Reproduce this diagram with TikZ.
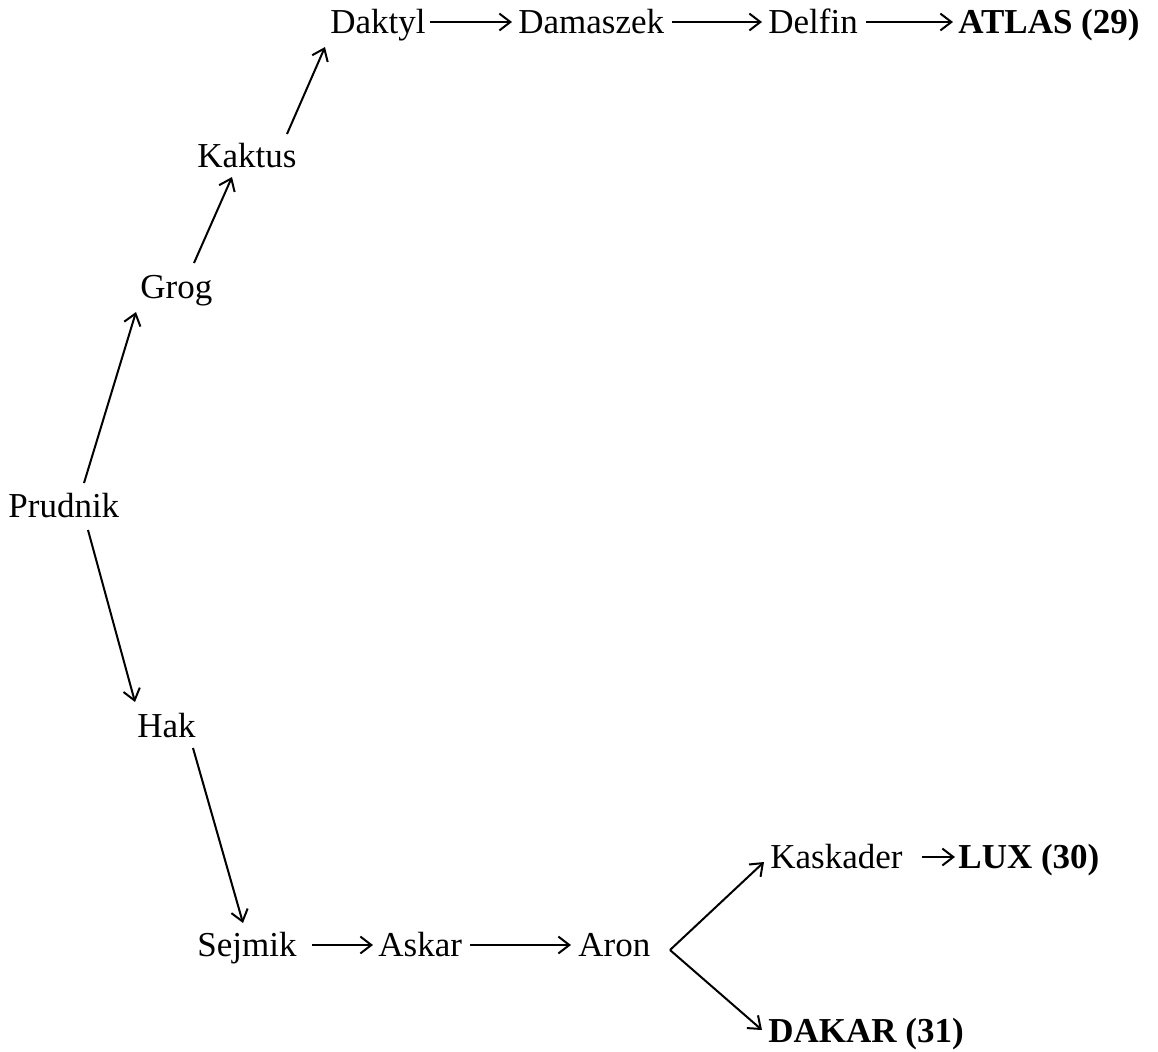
\documentclass[tikz,border=0pt]{standalone}
\usepackage{fontspec}
\setmainfont{Liberation Serif}
\usetikzlibrary{arrows.meta}
\begin{document}
\begin{tikzpicture}[x=0.5pt,y=-0.5pt,
  lbl/.style={anchor=base west,inner sep=0pt,font=\fontsize{17.5}{21}\selectfont},
  blbl/.style={lbl,font=\fontsize{17.5}{21}\selectfont\bfseries},
  arr/.style={line width=1pt,-{Straight Barb[length=5.5pt,width=11pt,angle'=75]}}]
\useasboundingbox (0,0) rectangle (1158,1051);
\node[lbl] (Prudnik) at (8,517) {Prudnik};
\node[lbl] (Grog) at (140,298) {Grog};
\node[lbl] (Kaktus) at (197,167) {Kaktus};
\node[lbl] (Daktyl) at (330,33) {Daktyl};
\node[lbl] (Damaszek) at (518,33) {Damaszek};
\node[lbl] (Delfin) at (768,33) {Delfin};
\node[blbl] (ATLAS) at (958,33) {ATLAS (29)};
\node[lbl] (Hak) at (137,737) {Hak};
\node[lbl] (Sejmik) at (197,956) {Sejmik};
\node[lbl] (Askar) at (378,956) {Askar};
\node[lbl] (Aron) at (578,956) {Aron};
\node[lbl] (Kaskader) at (770,868) {Kaskader};
\node[blbl] (LUX) at (958,868) {LUX (30)};
\node[blbl] (DAKAR) at (768,1042) {DAKAR (31)};
% upper branch
\draw[arr] ([shift={(76,-34)}]Prudnik.base west) -- ([shift={(-4,14)}]Grog.base west);
\draw[arr] ([shift={(54,-35)}]Grog.base west) -- ([shift={(35,10)}]Kaktus.base west);
\draw[arr] ([shift={(90,-33)}]Kaktus.base west) -- ([shift={(-5,14)}]Daktyl.base west);
\draw[arr] ([shift={(100,-11)}]Daktyl.base west) -- ([shift={(-6,-11)}]Damaszek.base west);
\draw[arr] ([shift={(154,-11)}]Damaszek.base west) -- ([shift={(-6,-11)}]Delfin.base west);
\draw[arr] ([shift={(98,-11)}]Delfin.base west) -- ([shift={(-5,-11)}]ATLAS.base west);
% lower branch
\draw[arr] ([shift={(80,13)}]Prudnik.base west) -- ([shift={(-2,-35)}]Hak.base west);
\draw[arr] ([shift={(56,11)}]Hak.base west) -- ([shift={(46,-33)}]Sejmik.base west);
\draw[arr] ([shift={(115,-11)}]Sejmik.base west) -- ([shift={(-5,-11)}]Askar.base west);
\draw[arr] ([shift={(92,-11)}]Askar.base west) -- ([shift={(-7,-11)}]Aron.base west);
\draw[arr] ([shift={(92,-6)}]Aron.base west) -- ([shift={(-6,-6)}]Kaskader.base west);
\draw[arr] ([shift={(92,-6)}]Aron.base west) -- ([shift={(-6,-12)}]DAKAR.base west);
\draw[arr] ([shift={(152,-11)}]Kaskader.base west) -- ([shift={(-3,-11)}]LUX.base west);
\end{tikzpicture}
\end{document}
